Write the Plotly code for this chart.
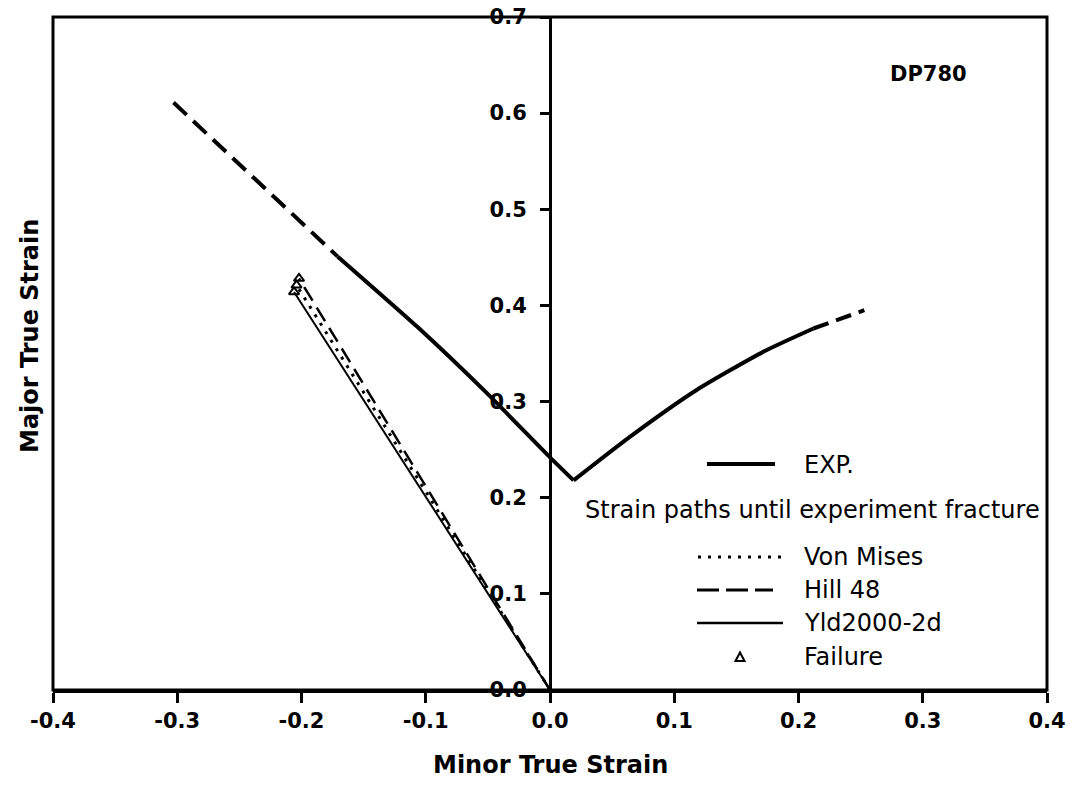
import plotly.graph_objects as go

# ---------------- data ----------------
exp_left_dash_x = [-0.303, -0.250, -0.200, -0.171]
exp_left_dash_y = [0.611, 0.547, 0.487, 0.451]
exp_left_solid_x = [-0.171, -0.107, -0.051, 0.000, 0.019]
exp_left_solid_y = [0.451, 0.378, 0.309, 0.242, 0.218]
exp_right_solid_x = [0.019, 0.064, 0.118, 0.172, 0.212]
exp_right_solid_y = [0.218, 0.263, 0.312, 0.352, 0.376]
exp_right_dash_x = [0.212, 0.233, 0.253]
exp_right_dash_y = [0.376, 0.386, 0.395]

vm_x = [0.0, -0.204]
vm_y = [0.0, 0.421]
hill_x = [0.0, -0.202]
hill_y = [0.0, 0.428]
yld_x = [0.0, -0.206]
yld_y = [0.0, 0.414]
fail_x = [-0.202, -0.204, -0.206]
fail_y = [0.428, 0.421, 0.414]

x_ticks = [-0.4, -0.3, -0.2, -0.1, 0.0, 0.1, 0.2, 0.3, 0.4]
y_ticks = [0.0, 0.1, 0.2, 0.3, 0.4, 0.5, 0.6, 0.7]

# ---------------- layout geometry ----------------
W, H = 1076, 785
ML, MR, MT, MB = 53, 29, 17, 95
PW, PH = W - ML - MR, H - MT - MB


def px(xp):
    return (xp - ML) / PW


def py(yp):
    return (H - MB - yp) / PH


TICKF = dict(family="DejaVu Sans", size=21, color="black", weight="bold")
LEGF = dict(family="DejaVu Sans", size=24, color="black")

fig = go.Figure()

fig.add_trace(go.Scatter(x=exp_left_dash_x, y=exp_left_dash_y, mode="lines",
                         line=dict(color="black", width=4, dash="18px,9px"),
                         showlegend=False, hoverinfo="skip"))
fig.add_trace(go.Scatter(x=exp_left_solid_x, y=exp_left_solid_y, mode="lines",
                         line=dict(color="black", width=4, shape="spline", smoothing=0.5),
                         name="EXP.", showlegend=False))
fig.add_trace(go.Scatter(x=exp_right_solid_x, y=exp_right_solid_y, mode="lines",
                         line=dict(color="black", width=4, shape="spline", smoothing=0.6),
                         name="EXP.", showlegend=False))
fig.add_trace(go.Scatter(x=exp_right_dash_x, y=exp_right_dash_y, mode="lines",
                         line=dict(color="black", width=4, dash="16px,8px"),
                         showlegend=False, hoverinfo="skip"))
fig.add_trace(go.Scatter(x=vm_x, y=vm_y, mode="lines",
                         line=dict(color="black", width=3, dash="3px,7px"),
                         name="Von Mises", showlegend=False))
fig.add_trace(go.Scatter(x=hill_x, y=hill_y, mode="lines",
                         line=dict(color="black", width=2.5, dash="16px,8px"),
                         name="Hill 48", showlegend=False))
fig.add_trace(go.Scatter(x=yld_x, y=yld_y, mode="lines",
                         line=dict(color="black", width=2),
                         name="Yld2000-2d", showlegend=False))
fig.add_trace(go.Scatter(x=fail_x, y=fail_y, mode="markers",
                         marker=dict(symbol="triangle-up-open", size=9, color="black",
                                     line=dict(width=2, color="black")),
                         name="Failure", showlegend=False))

shapes = [
    dict(type="rect", xref="paper", yref="paper", x0=0, x1=1, y0=0, y1=1,
         line=dict(color="black", width=3), layer="above"),
    # legend samples
    dict(type="line", xref="paper", yref="paper", x0=px(707), x1=px(775), y0=py(464), y1=py(464),
         line=dict(color="black", width=4)),
    dict(type="line", xref="paper", yref="paper", x0=px(698), x1=px(782), y0=py(557), y1=py(557),
         line=dict(color="black", width=3, dash="3px,7px")),
    dict(type="line", xref="paper", yref="paper", x0=px(697), x1=px(773), y0=py(590), y1=py(590),
         line=dict(color="black", width=3, dash="22px,7px")),
    dict(type="line", xref="paper", yref="paper", x0=px(697), x1=px(783), y0=py(623), y1=py(623),
         line=dict(color="black", width=2.5)),
    dict(type="path", xref="paper", yref="paper",
         path="M {a},{b} L {c},{b} L {d},{e} Z".format(a=px(735.5), b=py(661), c=px(744.5),
                                                       d=px(740), e=py(652.5)),
         line=dict(color="black", width=2), fillcolor="white"),
]

annotations = [
    dict(text="EXP.", xref="paper", yref="paper", x=px(802), y=py(465), xanchor="left",
         yanchor="middle", showarrow=False, font=LEGF),
    dict(text="Strain paths until experiment fracture", xref="paper", yref="paper",
         x=px(583), y=py(510), xanchor="left", yanchor="middle", showarrow=False, font=LEGF),
    dict(text="Von Mises", xref="paper", yref="paper", x=px(802), y=py(557), xanchor="left",
         yanchor="middle", showarrow=False, font=LEGF),
    dict(text="Hill 48", xref="paper", yref="paper", x=px(802), y=py(590), xanchor="left",
         yanchor="middle", showarrow=False, font=LEGF),
    dict(text="Yld2000-2d", xref="paper", yref="paper", x=px(802), y=py(623), xanchor="left",
         yanchor="middle", showarrow=False, font=LEGF),
    dict(text="Failure", xref="paper", yref="paper", x=px(802), y=py(657), xanchor="left",
         yanchor="middle", showarrow=False, font=LEGF),
    dict(text="DP780", xref="paper", yref="paper", x=px(928), y=py(74), xanchor="center",
         yanchor="middle", showarrow=False,
         font=dict(family="DejaVu Sans", size=21, color="black", weight="bold")),
    dict(text="Minor True Strain", xref="paper", yref="paper", x=0.5, y=py(765),
         xanchor="center", yanchor="middle", showarrow=False,
         font=dict(family="DejaVu Sans", size=24, color="black", weight="bold")),
    dict(text="Major True Strain", xref="paper", yref="paper", x=px(30), y=py(336),
         xanchor="center", yanchor="middle", showarrow=False, textangle=-90,
         font=dict(family="DejaVu Sans", size=24, color="black", weight="bold")),
]

fig.update_layout(
    width=W, height=H,
    margin=dict(l=ML, r=MR, t=MT, b=MB, pad=0, autoexpand=False),
    paper_bgcolor="white", plot_bgcolor="white",
    showlegend=False,
    shapes=shapes, annotations=annotations,
    xaxis=dict(range=[-0.4, 0.4], tickvals=x_ticks, ticktext=["%.1f" % v for v in x_ticks],
               ticks="outside", ticklen=10, tickwidth=2.5, tickcolor="black",
               showline=True, linewidth=3, linecolor="black", showgrid=False, zeroline=False,
               tickfont=TICKF, fixedrange=True, automargin=False),
    yaxis=dict(range=[0, 0.7], tickvals=y_ticks, ticktext=["%.1f" % v for v in y_ticks],
               anchor="free", position=0.5, side="left",
               ticks="outside", ticklen=9, tickwidth=2.5, tickcolor="black",
               ticklabelstandoff=9,
               showline=True, linewidth=3, linecolor="black", showgrid=False, zeroline=False,
               tickfont=TICKF, fixedrange=True, automargin=False),
)

fig.write_html("out.html")
